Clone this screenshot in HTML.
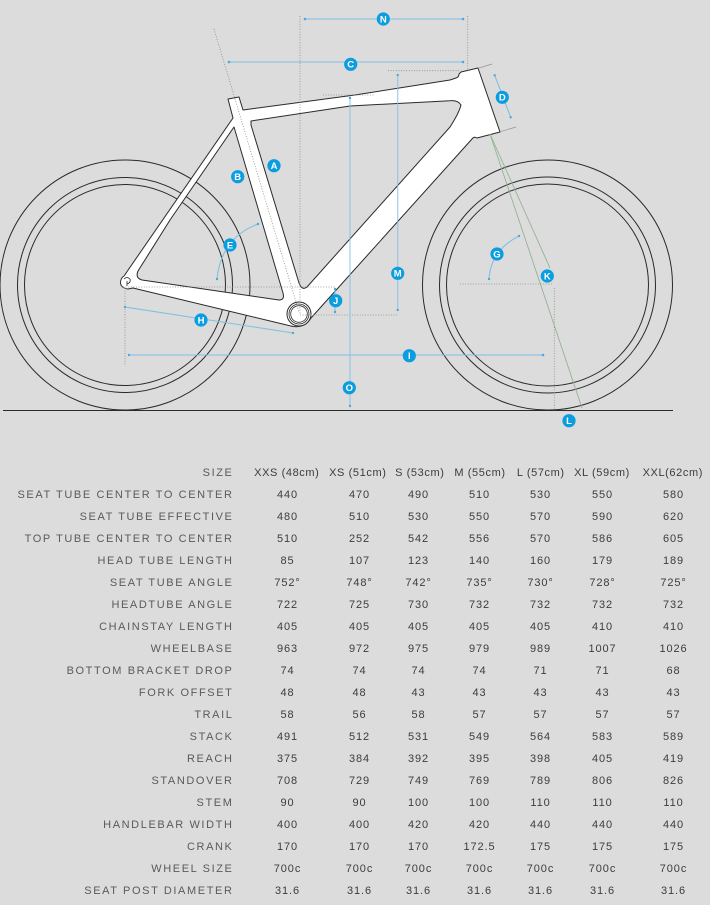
<!DOCTYPE html>
<html><head><meta charset="utf-8"><style>
html,body{margin:0;padding:0;background:#dcdcdc;}
svg{display:block;}
.lb{font-family:"Liberation Sans",sans-serif;font-size:11px;fill:#5a5a5a;letter-spacing:1.6px;text-anchor:end;}
.v{font-family:"Liberation Sans",sans-serif;font-size:11px;fill:#3c3c3c;letter-spacing:0.9px;text-anchor:middle;}
.h{font-family:"Liberation Sans",sans-serif;font-size:11px;fill:#3c3c3c;letter-spacing:0.6px;text-anchor:middle;}
.mk{font-family:"Liberation Sans",sans-serif;font-size:9.5px;font-weight:bold;fill:#fff;text-anchor:middle;}
</style></head><body>
<svg width="710" height="905" viewBox="0 0 710 905" xmlns="http://www.w3.org/2000/svg">
<rect width="710" height="905" fill="#dcdcdc"/>
<!-- wheels -->
<g fill="none" stroke="#2a2a2a" stroke-width="1">
<circle cx="125" cy="285" r="125"/><circle cx="125" cy="285" r="107.5"/><circle cx="125" cy="285" r="100.5"/>
<circle cx="547.5" cy="285" r="125"/><circle cx="547.5" cy="285" r="108"/><circle cx="547.5" cy="285" r="101"/>
<line x1="3" y1="410.5" x2="673" y2="410.5"/>
</g>
<!-- frame -->
<path fill="#fff" fill-rule="evenodd" stroke="#2a2a2a" stroke-width="1" stroke-linejoin="round" d="
M228,99 L239,97 L243,110 L355,95 L450,80 L456,78 Q459,77 459,74 L461,72 L478,68 L500,132 L477,138 Q474,136 472,139 L311,318 Q305,328 293,326.5 L133,288 L128,289 Q121,288 120.5,283 Q120.5,278 124,276 L233,118 Z
M251,121 L350,106 L450,100.7 Q458,100 461,105 Q459,113 450,127 L307,287 Q302,291 299,283 L251,125 Z
M234,127 L283,293 Q285,300 279,300 L142,280 Q135,278 138,271 L170,220 Z"/>
<path d="M124,279 q3,-3 6,0 q1,4 -3,5 M127,281 l0,5" fill="none" stroke="#2a2a2a" stroke-width="0.8"/>
<!-- BB -->
<circle cx="299" cy="314" r="12" fill="#fff" stroke="#2a2a2a" stroke-width="1"/>
<circle cx="299" cy="314" r="10" fill="none" stroke="#2a2a2a" stroke-width="0.8"/>
<circle cx="299" cy="314" r="8.3" fill="none" stroke="#2a2a2a" stroke-width="0.8"/>
<!-- dotted grey guides -->
<g fill="none" stroke="#8a8a8a" stroke-width="0.8" stroke-dasharray="1,1.6">
<line x1="300" y1="16" x2="300" y2="314"/>
<line x1="214" y1="29" x2="299" y2="312"/>
<line x1="467.7" y1="16" x2="467.7" y2="69"/>
<line x1="388" y1="70.7" x2="460" y2="70.7"/>
<line x1="323" y1="95" x2="375" y2="95"/>
<line x1="123" y1="287" x2="335" y2="287"/>
<line x1="300" y1="315" x2="398" y2="315"/>
<line x1="125" y1="288" x2="125" y2="365"/>
<line x1="460" y1="284" x2="553" y2="284"/>
<line x1="554.3" y1="288" x2="554.3" y2="410"/>
</g>
<!-- grey extension lines for D -->
<g stroke="#8f8f8f" stroke-width="0.7">
<line x1="478" y1="68.3" x2="492" y2="64"/>
<line x1="500" y1="131.7" x2="516" y2="127"/>
</g>
<!-- green steering lines -->
<g stroke="#93b393" stroke-width="0.9" fill="none">
<line x1="490" y1="134" x2="582" y2="408"/>
<line x1="490" y1="134" x2="550" y2="268"/>
</g>
<!-- blue dimension lines -->
<g stroke="#7fc0e3" stroke-width="1.1" fill="none">
<line x1="305" y1="19" x2="463" y2="19"/>
<line x1="229" y1="62" x2="463" y2="62"/>
<line x1="494.7" y1="75.3" x2="510.7" y2="117.3"/>
<line x1="125" y1="307" x2="293" y2="333"/>
<line x1="129" y1="355" x2="543" y2="355"/>
<line x1="335" y1="289" x2="335" y2="312"/>
<path d="M217,279 Q221,238 258,224"/>
<path d="M489,279 Q491,250 519,236"/>
</g>
<g stroke="#7fc0e3" stroke-width="1.2" fill="none" opacity="0.75">
<line x1="350" y1="97" x2="350" y2="407"/>
<line x1="397.7" y1="75" x2="397.7" y2="310"/>
</g>
<g fill="#4aa8dc">
<circle cx="305" cy="19" r="1.3"/><circle cx="463" cy="19" r="1.3"/>
<circle cx="229" cy="62" r="1.3"/><circle cx="463" cy="62" r="1.3"/>
<circle cx="494.7" cy="75.3" r="1.2"/><circle cx="510.7" cy="117.3" r="1.2"/>
<circle cx="125" cy="307" r="1.2"/><circle cx="293" cy="333" r="1.2"/>
<circle cx="129" cy="355" r="1.2"/><circle cx="543" cy="355" r="1.3"/>
<circle cx="335" cy="289" r="1.2"/><circle cx="335" cy="312" r="1.2"/>
<circle cx="217" cy="279" r="1.2"/><circle cx="258" cy="224" r="1.2"/>
<circle cx="489" cy="279" r="1.2"/><circle cx="519" cy="236" r="1.2"/>
<circle cx="350" cy="98" r="1.2"/><circle cx="350" cy="406" r="1.2"/>
<circle cx="397.7" cy="75" r="1.2"/><circle cx="397.7" cy="310" r="1.2"/>
</g>
<!-- markers -->
<g fill="#0a9ddf">
<circle cx="383.3" cy="19" r="6.6"/><circle cx="350.7" cy="64.3" r="6.6"/><circle cx="502.3" cy="97.3" r="6.6"/>
<circle cx="274" cy="165.7" r="6.6"/><circle cx="237.7" cy="176.7" r="6.6"/><circle cx="230" cy="245" r="6.6"/>
<circle cx="201" cy="320" r="6.6"/><circle cx="335.7" cy="300.7" r="6.6"/><circle cx="349.3" cy="387.7" r="6.6"/>
<circle cx="397.7" cy="273.3" r="6.6"/><circle cx="497" cy="254" r="6.6"/><circle cx="547.3" cy="276" r="6.6"/>
<circle cx="409.3" cy="355.7" r="6.6"/><circle cx="569" cy="420.7" r="6.6"/>
</g>
<text class="mk" x="383.3" y="22.4">N</text><text class="mk" x="350.7" y="67.7">C</text><text class="mk" x="502.3" y="100.7">D</text>
<text class="mk" x="274" y="169.1">A</text><text class="mk" x="237.7" y="180.1">B</text><text class="mk" x="230" y="248.4">E</text>
<text class="mk" x="201" y="323.4">H</text><text class="mk" x="335.7" y="304.1">J</text><text class="mk" x="349.3" y="391.1">O</text>
<text class="mk" x="397.7" y="276.7">M</text><text class="mk" x="497" y="257.4">G</text><text class="mk" x="547.3" y="279.4">K</text>
<text class="mk" x="409.3" y="359.1">I</text><text class="mk" x="569" y="424.1">L</text>

<!-- table -->
<g>
<text class="lb" x="233.5" y="476">SIZE</text>
<text class="h" x="286.8" y="476">XXS (48cm)</text><text class="h" x="357.8" y="476">XS (51cm)</text><text class="h" x="419.8" y="476">S (53cm)</text><text class="h" x="480" y="476">M (55cm)</text><text class="h" x="540.8" y="476">L (57cm)</text><text class="h" x="602" y="476">XL (59cm)</text><text class="h" x="672.8" y="476">XXL(62cm)</text>

<text class="lb" x="233.5" y="498">SEAT TUBE CENTER TO CENTER</text>
<text class="v" x="287.5" y="498">440</text><text class="v" x="359.5" y="498">470</text><text class="v" x="418.5" y="498">490</text><text class="v" x="479.5" y="498">510</text><text class="v" x="540.5" y="498">530</text><text class="v" x="602.5" y="498">550</text><text class="v" x="673.5" y="498">580</text>

<text class="lb" x="233.5" y="520">SEAT TUBE EFFECTIVE</text>
<text class="v" x="287.5" y="520">480</text><text class="v" x="359.5" y="520">510</text><text class="v" x="418.5" y="520">530</text><text class="v" x="479.5" y="520">550</text><text class="v" x="540.5" y="520">570</text><text class="v" x="602.5" y="520">590</text><text class="v" x="673.5" y="520">620</text>

<text class="lb" x="233.5" y="542">TOP TUBE CENTER TO CENTER</text>
<text class="v" x="287.5" y="542">510</text><text class="v" x="359.5" y="542">252</text><text class="v" x="418.5" y="542">542</text><text class="v" x="479.5" y="542">556</text><text class="v" x="540.5" y="542">570</text><text class="v" x="602.5" y="542">586</text><text class="v" x="673.5" y="542">605</text>

<text class="lb" x="233.5" y="564">HEAD TUBE LENGTH</text>
<text class="v" x="287.5" y="564">85</text><text class="v" x="359.5" y="564">107</text><text class="v" x="418.5" y="564">123</text><text class="v" x="479.5" y="564">140</text><text class="v" x="540.5" y="564">160</text><text class="v" x="602.5" y="564">179</text><text class="v" x="673.5" y="564">189</text>

<text class="lb" x="233.5" y="586">SEAT TUBE ANGLE</text>
<text class="v" x="287.5" y="586">752°</text><text class="v" x="359.5" y="586">748°</text><text class="v" x="418.5" y="586">742°</text><text class="v" x="479.5" y="586">735°</text><text class="v" x="540.5" y="586">730°</text><text class="v" x="602.5" y="586">728°</text><text class="v" x="673.5" y="586">725°</text>

<text class="lb" x="233.5" y="608">HEADTUBE ANGLE</text>
<text class="v" x="287.5" y="608">722</text><text class="v" x="359.5" y="608">725</text><text class="v" x="418.5" y="608">730</text><text class="v" x="479.5" y="608">732</text><text class="v" x="540.5" y="608">732</text><text class="v" x="602.5" y="608">732</text><text class="v" x="673.5" y="608">732</text>

<text class="lb" x="233.5" y="630">CHAINSTAY LENGTH</text>
<text class="v" x="287.5" y="630">405</text><text class="v" x="359.5" y="630">405</text><text class="v" x="418.5" y="630">405</text><text class="v" x="479.5" y="630">405</text><text class="v" x="540.5" y="630">405</text><text class="v" x="602.5" y="630">410</text><text class="v" x="673.5" y="630">410</text>

<text class="lb" x="233.5" y="652">WHEELBASE</text>
<text class="v" x="287.5" y="652">963</text><text class="v" x="359.5" y="652">972</text><text class="v" x="418.5" y="652">975</text><text class="v" x="479.5" y="652">979</text><text class="v" x="540.5" y="652">989</text><text class="v" x="602.5" y="652">1007</text><text class="v" x="673.5" y="652">1026</text>

<text class="lb" x="233.5" y="674">BOTTOM BRACKET DROP</text>
<text class="v" x="287.5" y="674">74</text><text class="v" x="359.5" y="674">74</text><text class="v" x="418.5" y="674">74</text><text class="v" x="479.5" y="674">74</text><text class="v" x="540.5" y="674">71</text><text class="v" x="602.5" y="674">71</text><text class="v" x="673.5" y="674">68</text>

<text class="lb" x="233.5" y="696">FORK OFFSET</text>
<text class="v" x="287.5" y="696">48</text><text class="v" x="359.5" y="696">48</text><text class="v" x="418.5" y="696">43</text><text class="v" x="479.5" y="696">43</text><text class="v" x="540.5" y="696">43</text><text class="v" x="602.5" y="696">43</text><text class="v" x="673.5" y="696">43</text>

<text class="lb" x="233.5" y="718">TRAIL</text>
<text class="v" x="287.5" y="718">58</text><text class="v" x="359.5" y="718">56</text><text class="v" x="418.5" y="718">58</text><text class="v" x="479.5" y="718">57</text><text class="v" x="540.5" y="718">57</text><text class="v" x="602.5" y="718">57</text><text class="v" x="673.5" y="718">57</text>

<text class="lb" x="233.5" y="740">STACK</text>
<text class="v" x="287.5" y="740">491</text><text class="v" x="359.5" y="740">512</text><text class="v" x="418.5" y="740">531</text><text class="v" x="479.5" y="740">549</text><text class="v" x="540.5" y="740">564</text><text class="v" x="602.5" y="740">583</text><text class="v" x="673.5" y="740">589</text>

<text class="lb" x="233.5" y="762">REACH</text>
<text class="v" x="287.5" y="762">375</text><text class="v" x="359.5" y="762">384</text><text class="v" x="418.5" y="762">392</text><text class="v" x="479.5" y="762">395</text><text class="v" x="540.5" y="762">398</text><text class="v" x="602.5" y="762">405</text><text class="v" x="673.5" y="762">419</text>

<text class="lb" x="233.5" y="784">STANDOVER</text>
<text class="v" x="287.5" y="784">708</text><text class="v" x="359.5" y="784">729</text><text class="v" x="418.5" y="784">749</text><text class="v" x="479.5" y="784">769</text><text class="v" x="540.5" y="784">789</text><text class="v" x="602.5" y="784">806</text><text class="v" x="673.5" y="784">826</text>

<text class="lb" x="233.5" y="806">STEM</text>
<text class="v" x="287.5" y="806">90</text><text class="v" x="359.5" y="806">90</text><text class="v" x="418.5" y="806">100</text><text class="v" x="479.5" y="806">100</text><text class="v" x="540.5" y="806">110</text><text class="v" x="602.5" y="806">110</text><text class="v" x="673.5" y="806">110</text>

<text class="lb" x="233.5" y="828">HANDLEBAR WIDTH</text>
<text class="v" x="287.5" y="828">400</text><text class="v" x="359.5" y="828">400</text><text class="v" x="418.5" y="828">420</text><text class="v" x="479.5" y="828">420</text><text class="v" x="540.5" y="828">440</text><text class="v" x="602.5" y="828">440</text><text class="v" x="673.5" y="828">440</text>

<text class="lb" x="233.5" y="850">CRANK</text>
<text class="v" x="287.5" y="850">170</text><text class="v" x="359.5" y="850">170</text><text class="v" x="418.5" y="850">170</text><text class="v" x="479.5" y="850">172.5</text><text class="v" x="540.5" y="850">175</text><text class="v" x="602.5" y="850">175</text><text class="v" x="673.5" y="850">175</text>

<text class="lb" x="233.5" y="872">WHEEL SIZE</text>
<text class="v" x="287.5" y="872">700c</text><text class="v" x="359.5" y="872">700c</text><text class="v" x="418.5" y="872">700c</text><text class="v" x="479.5" y="872">700c</text><text class="v" x="540.5" y="872">700c</text><text class="v" x="602.5" y="872">700c</text><text class="v" x="673.5" y="872">700c</text>

<text class="lb" x="233.5" y="894">SEAT POST DIAMETER</text>
<text class="v" x="287.5" y="894">31.6</text><text class="v" x="359.5" y="894">31.6</text><text class="v" x="418.5" y="894">31.6</text><text class="v" x="479.5" y="894">31.6</text><text class="v" x="540.5" y="894">31.6</text><text class="v" x="602.5" y="894">31.6</text><text class="v" x="673.5" y="894">31.6</text>
</g>
</svg>
</body></html>
